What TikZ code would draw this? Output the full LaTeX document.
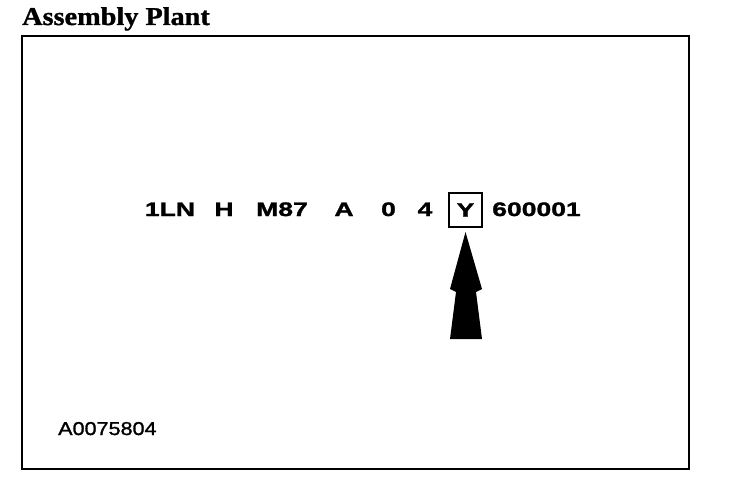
\documentclass[tikz,border=0pt]{standalone}
\usepackage{fontspec}
\setmainfont{Liberation Serif}
\newfontfamily\vinfont[FakeStretch=1.36,FakeBold=1.6]{Liberation Sans Bold}
\newfontfamily\codefont[FakeStretch=1.16,FakeBold=1.4]{Liberation Sans}
\newfontfamily\titlefont[FakeStretch=1.1,FakeBold=1.2]{Liberation Serif Bold}
\usetikzlibrary{calc,positioning}

\begin{document}
\begin{tikzpicture}[x=1pt,y=-1pt,
    vin/.style={anchor=base,inner sep=0pt,font=\vinfont\fontsize{19.5}{20}\selectfont}]
  \useasboundingbox (0,0) rectangle (736,492);
  \node[anchor=base west,inner sep=0pt,font=\titlefont\fontsize{25.7}{28}\selectfont] (title) at (22,25) {Assembly Plant};
  \draw[line width=2.5pt] (22,36) rectangle (689,469);
  \node[vin] (wmi) at (170,216) {1LN};
  \node[vin] (line) at (224,216) {H};
  \node[vin] (body) at (282,216) {M87};
  \node[vin] (restr) at (344,216) {A};
  \node[vin] (check) at (388.5,216) {0};
  \node[vin] (year) at (425,216) {4};
  \node[draw,line width=2pt,minimum width=33pt,minimum height=34pt,inner sep=0pt,
    font=\vinfont\fontsize{19.5}{20}\selectfont] (plant) at (465.5,210) {Y};
  \node[vin] (serial) at (536.5,216) {600001};
  \node[anchor=base west,inner sep=0pt,font=\codefont\fontsize{18.6}{20}\selectfont] (code) at (58,435) {A0075804};
  \fill (plant.south) ++(0,4) -- ++(16.5,57) -- ++(-6,3) -- ++(6,47)
    -- ++(-32,0) -- ++(6,-47) -- ++(-6,-3) -- cycle;
\end{tikzpicture}
\end{document}
